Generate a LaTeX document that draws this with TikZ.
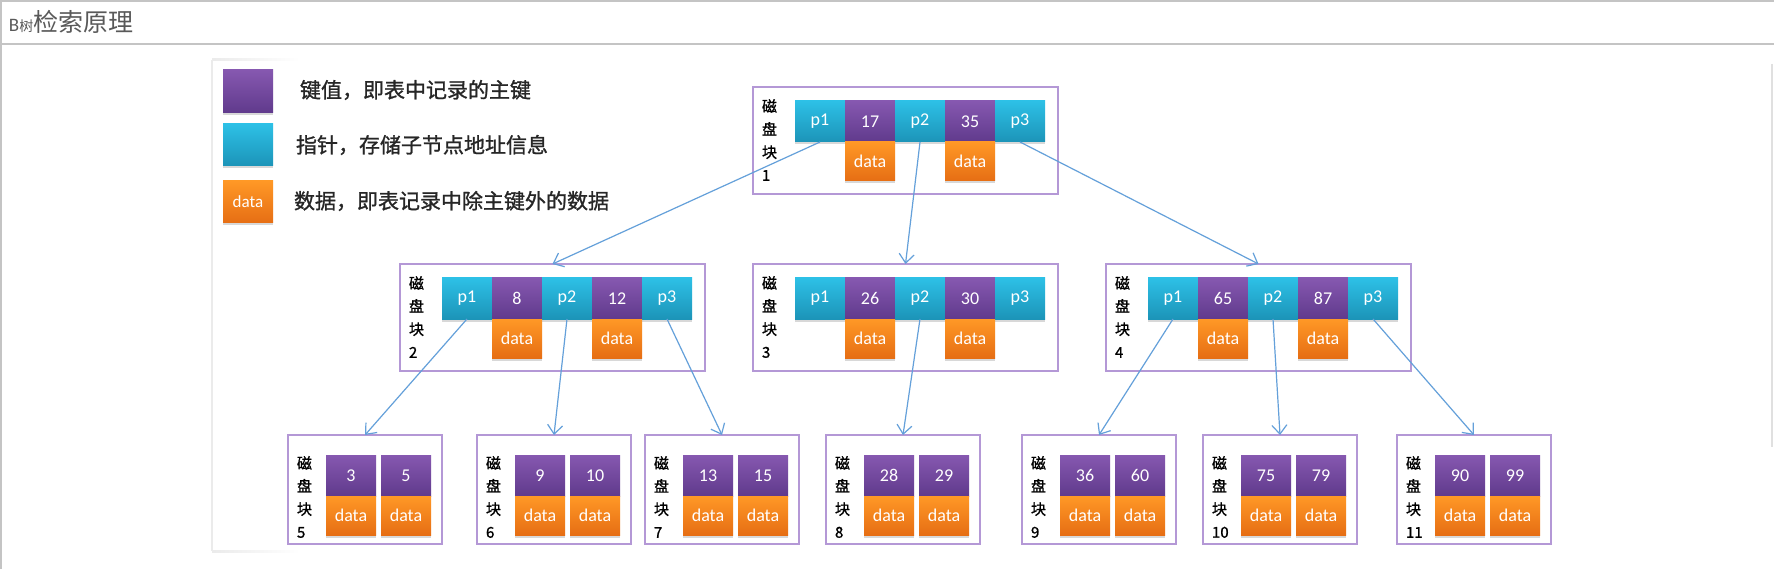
\documentclass[tikz,border=0pt]{standalone}
\usepackage{fontspec}
\setmainfont{Carlito}
\newfontfamily\cjk{Noto Sans CJK SC}
\newfontfamily\cjkb[FakeBold=1.2]{Noto Sans CJK SC}
\usetikzlibrary{arrows.meta,positioning,shadows}
\definecolor{PtrTop}{RGB}{45,192,230}
\definecolor{PtrBot}{RGB}{28,148,184}
\definecolor{KeyTop}{RGB}{134,88,176}
\definecolor{KeyBot}{RGB}{96,58,140}
\definecolor{DataTop}{RGB}{255,152,38}
\definecolor{DataBot}{RGB}{230,110,20}
\definecolor{DiskLine}{RGB}{180,152,214}
\definecolor{LinkBlue}{RGB}{100,160,218}
\definecolor{FrameGrey}{RGB}{196,196,196}

\begin{document}
\begin{tikzpicture}[x=1pt, y=-1pt,
  every node/.style={inner sep=0pt, outer sep=0pt},
  cell/.style={anchor=north west, minimum width=50pt, minimum height=41pt, text=white,
    font=\fontsize{18}{18}\selectfont,
    drop shadow={shadow xshift=0pt, shadow yshift=-2.5pt, opacity=.3}},
  ptr/.style={cell, top color=PtrTop, bottom color=PtrBot},
  keyc/.style={cell, top color=KeyTop, bottom color=KeyBot},
  datac/.style={cell, minimum height=39pt, top color=DataTop, bottom color=DataBot},
  disk/.style={anchor=north west, draw=DiskLine, line width=1.5pt, minimum width=305pt, minimum height=107pt},
  leaf/.style={disk, minimum width=154pt, minimum height=109pt},
  disklabel/.style={anchor=west, align=left, font=\cjkb\fontsize{15}{23}\selectfont},
  legtext/.style={anchor=west, text=black!85, font=\cjkb\fontsize{21}{21}\selectfont},
  link/.style={draw=LinkBlue, line width=1.2pt, -{Straight Barb[length=9pt, width=15pt]}}]

  \useasboundingbox (0,0) rectangle (1774,569);
  \fill[white] (0,0) rectangle (1774,569);

  % window frame and title
  \draw[FrameGrey, line width=2pt] (0,1) -- (1774,1);
  \draw[FrameGrey, line width=1.5pt] (0,44) -- (1774,44);
  \draw[FrameGrey, line width=2pt] (1,0) -- (1,569);
  \draw[black!12, line width=1.5pt] (1772,64) -- (1772,447);
  \node[anchor=base west, text=black!65] (title) at (9,32)
    {{\fontsize{19}{19}\selectfont B\cjk\fontsize{14}{14}\selectfont 树}\cjk\fontsize{25}{25}\selectfont 检索原理};

  % slide edge
  \draw[black!8, line width=1.5pt] (212,60) -- (212,551);
  \shade[left color=black!8, right color=white] (212,59) rectangle (300,61);
  \shade[left color=black!8, right color=white] (212,550) rectangle (300,552);

  % legend
  \node[keyc, minimum height=43pt] (legkey) at (223,70) {};
  \node[ptr, minimum height=42pt] (legptr) at (223,124) {};
  \node[datac, minimum height=42pt, font=\fontsize{17}{17}\selectfont] (legdata) at (223,181) {data};
  \node[legtext] (legkeytext) at (300,90) {键值，即表中记录的主键};
  \node[legtext] (legptrtext) at (296,145) {指针，存储子节点地址信息};
  \node[legtext] (legdatatext) at (294,201) {数据，即表记录中除主键外的数据};

  % root disk block
  \node[disk] (b1) at (753,87) {};
  \node[disklabel] (b1-lab) at (762,140) {磁\\盘\\块\\1};
  \node[ptr] (b1-p1) at (795,101) {p1};
  \node[keyc, right=0pt of b1-p1] (b1-k1) {17};
  \node[ptr, right=0pt of b1-k1] (b1-p2) {p2};
  \node[keyc, right=0pt of b1-p2] (b1-k2) {35};
  \node[ptr, right=0pt of b1-k2] (b1-p3) {p3};
  \node[datac, below=0pt of b1-k1] (b1-d1) {data};
  \node[datac, below=0pt of b1-k2] (b1-d2) {data};

  % second level
  \foreach \n/\a/\b/\x in {2/8/12/400, 3/26/30/753, 4/65/87/1106} {
    \node[disk] (b\n) at (\x,264) {};
    \node[disklabel] (b\n-lab) at (\x+9,317) {磁\\盘\\块\\\n};
    \node[ptr] (b\n-p1) at (\x+42,278) {p1};
    \node[keyc, right=0pt of b\n-p1] (b\n-k1) {\a};
    \node[ptr, right=0pt of b\n-k1] (b\n-p2) {p2};
    \node[keyc, right=0pt of b\n-p2] (b\n-k2) {\b};
    \node[ptr, right=0pt of b\n-k2] (b\n-p3) {p3};
    \node[datac, below=0pt of b\n-k1] (b\n-d1) {data};
    \node[datac, below=0pt of b\n-k2] (b\n-d2) {data};
  }

  % leaf blocks
  \foreach \n/\a/\b/\x in {5/3/5/288, 6/9/10/477, 7/13/15/645, 8/28/29/826,
                            9/36/60/1022, 10/75/79/1203, 11/90/99/1397} {
    \node[leaf] (b\n) at (\x,435) {};
    \node[disklabel] (b\n-lab) at (\x+9,497) {磁\\盘\\块\\\n};
    \node[keyc] (b\n-k1) at (\x+38,455) {\a};
    \node[keyc] (b\n-k2) at (\x+93,455) {\b};
    \node[datac, below=0pt of b\n-k1] (b\n-d1) {data};
    \node[datac, below=0pt of b\n-k2] (b\n-d2) {data};
  }

  \draw[link] (b1-p1.south) -- (b2.north);
  \draw[link] (b1-p2.south) -- (b3.north);
  \draw[link] (b1-p3.south) -- (b4.north);
  \draw[link] (b2-p1.south) -- (b5.north);
  \draw[link] (b2-p2.south) -- (b6.north);
  \draw[link] (b2-p3.south) -- (b7.north);
  \draw[link] (b3-p2.south) -- (b8.north);
  \draw[link] (b4-p1.south) -- (b9.north);
  \draw[link] (b4-p2.south) -- (b10.north);
  \draw[link] (b4-p3.south) -- (b11.north);
\end{tikzpicture}
\end{document}
